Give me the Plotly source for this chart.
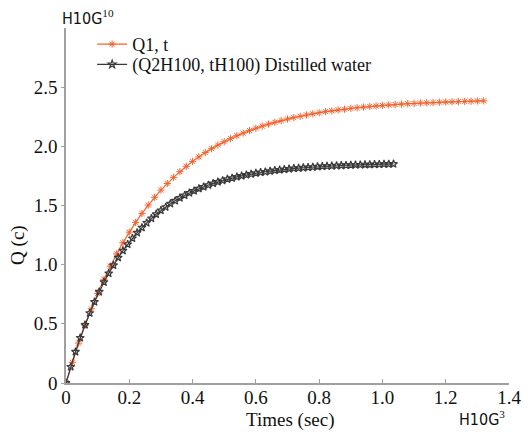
import plotly.graph_objects as go

# Series 1: Q1, t (orange)
t1 = [0.00, 0.02, 0.04, 0.06, 0.08, 0.10, 0.12, 0.14, 0.16, 0.18,
      0.20, 0.22, 0.24, 0.26, 0.28, 0.30, 0.32, 0.34, 0.36, 0.38,
      0.40, 0.42, 0.44, 0.46, 0.48, 0.50, 0.52, 0.54, 0.56, 0.58,
      0.60, 0.62, 0.64, 0.66, 0.68, 0.70, 0.72, 0.74, 0.76, 0.78,
      0.80, 0.82, 0.84, 0.86, 0.88, 0.90, 0.92, 0.94, 0.96, 0.98,
      1.00, 1.02, 1.04, 1.06, 1.08, 1.10, 1.12, 1.14, 1.16, 1.18,
      1.20, 1.22, 1.24, 1.26, 1.28, 1.30, 1.32]
q1 = [0.000, 0.175, 0.337, 0.488, 0.627, 0.757, 0.877, 0.988, 1.091, 1.186,
      1.275, 1.357, 1.433, 1.504, 1.569, 1.630, 1.686, 1.738, 1.786, 1.831,
      1.873, 1.911, 1.947, 1.980, 2.010, 2.039, 2.065, 2.090, 2.112, 2.133,
      2.153, 2.171, 2.188, 2.203, 2.217, 2.231, 2.243, 2.254, 2.265, 2.275,
      2.284, 2.293, 2.300, 2.308, 2.314, 2.321, 2.326, 2.332, 2.337, 2.341,
      2.346, 2.350, 2.353, 2.357, 2.360, 2.363, 2.366, 2.368, 2.370, 2.373,
      2.375, 2.376, 2.378, 2.380, 2.381, 2.383, 2.384]

# Series 2: (Q2H100, tH100) Distilled water (black)
t2 = [0.000, 0.015, 0.030, 0.045, 0.060, 0.075, 0.090, 0.105, 0.120, 0.135,
      0.150, 0.165, 0.180, 0.195, 0.210, 0.225, 0.240, 0.255, 0.270, 0.285,
      0.300, 0.315, 0.330, 0.345, 0.360, 0.375, 0.390, 0.405, 0.420, 0.435,
      0.450, 0.465, 0.480, 0.495, 0.510, 0.525, 0.540, 0.555, 0.570, 0.585,
      0.600, 0.615, 0.630, 0.645, 0.660, 0.675, 0.690, 0.705, 0.720, 0.735,
      0.750, 0.765, 0.780, 0.795, 0.810, 0.825, 0.840, 0.855, 0.870, 0.885,
      0.900, 0.915, 0.930, 0.945, 0.960, 0.975, 0.990, 1.005, 1.020, 1.035]
q2 = [0.000, 0.137, 0.264, 0.382, 0.491, 0.591, 0.685, 0.771, 0.852, 0.926,
      0.995, 1.059, 1.118, 1.172, 1.223, 1.270, 1.313, 1.354, 1.391, 1.426,
      1.458, 1.487, 1.515, 1.540, 1.564, 1.585, 1.606, 1.624, 1.642, 1.658,
      1.673, 1.687, 1.699, 1.711, 1.722, 1.732, 1.742, 1.750, 1.758, 1.766,
      1.773, 1.779, 1.785, 1.791, 1.796, 1.801, 1.805, 1.809, 1.813, 1.816,
      1.819, 1.822, 1.825, 1.828, 1.830, 1.832, 1.834, 1.836, 1.838, 1.840,
      1.841, 1.843, 1.844, 1.845, 1.846, 1.847, 1.848, 1.849, 1.850, 1.851]

x_ticks = [0, 0.2, 0.4, 0.6, 0.8, 1.0, 1.2, 1.4]
x_tick_labels = ["0", "0.2", "0.4", "0.6", "0.8", "1.0", "1.2", "1.4"]
y_ticks = [0, 0.5, 1.0, 1.5, 2.0, 2.5]
y_tick_labels = ["0", "0.5", "1.0", "1.5", "2.0", "2.5"]

serif = "Liberation Serif"
sans = "Liberation Sans Narrow, DejaVu Sans Condensed, sans-serif"
orange = "#f2642f"
dark = "#3a3a3a"
axis_gray = "#a0a0a0"

fig = go.Figure()
fig.add_trace(go.Scatter(
    x=t1, y=q1, mode="lines+markers", name="Q1, t", legend="legend",
    line=dict(color=orange, width=1.2),
    marker=dict(symbol="asterisk-open", size=6, color=orange,
                line=dict(color=orange, width=1)),
))
fig.add_trace(go.Scatter(
    x=t2, y=q2, mode="lines+markers", name="(Q2H100, tH100) Distilled water",
    legend="legend2",
    line=dict(color=dark, width=1.2),
    marker=dict(symbol="star-open", size=6, color=dark,
                line=dict(color=dark, width=1.2)),
))

# page body has an 8px margin: figure is sized/offset so the plot area lands
# at x 66..509, y 28..383 in the 529x432 window
fig.update_layout(
    width=521, height=424,
    margin=dict(l=58, r=20, t=20, b=49),
    paper_bgcolor="white", plot_bgcolor="white",
    font=dict(family=serif, size=18, color="#111"),
    showlegend=True,
    legend=dict(x=0.059, y=1.006, xanchor="left", yanchor="top",
                bgcolor="rgba(255,255,255,0)", font=dict(family=serif, size=18)),
    legend2=dict(x=0.059, y=0.949, xanchor="left", yanchor="top",
                 bgcolor="rgba(255,255,255,0)", font=dict(family=serif, size=18)),
    xaxis=dict(range=[0, 1.4], tickvals=x_ticks, ticktext=x_tick_labels,
               showgrid=False, zeroline=False, showline=True, automargin=False,
               linecolor=axis_gray, linewidth=1.5,
               ticks="inside", ticklen=4, tickcolor=axis_gray,
               ticklabelstandoff=-4,
               tickfont=dict(family=serif, size=19)),
    yaxis=dict(range=[0, 3.0], tickvals=y_ticks, ticktext=y_tick_labels,
               showgrid=False, zeroline=False, showline=True, automargin=False,
               linecolor=axis_gray, linewidth=1.5,
               ticks="outside", ticklen=3, tickcolor=axis_gray,
               tickfont=dict(family=serif, size=19)),
)

# axis titles
fig.add_annotation(text="Times (sec)", xref="paper", yref="paper",
                   x=0.506, y=0, xanchor="center", yanchor="middle", yshift=-37,
                   showarrow=False, font=dict(family=serif, size=19, color="#111"))
fig.add_annotation(text="Q (c)", xref="paper", yref="paper", textangle=-90,
                   x=0, y=0.389, xanchor="center", yanchor="middle", xshift=-48,
                   showarrow=False, font=dict(family=serif, size=19, color="#111"))

# scale factors
fig.add_annotation(text="H10G<sup><span style='font-family:Liberation Serif'>10</span></sup>",
                   xref="paper", yref="paper",
                   x=0.0, y=1.0, xanchor="left", yanchor="bottom", yshift=-2,
                   xshift=-6, showarrow=False,
                   font=dict(family=sans, size=16, color="#111"))
fig.add_annotation(text="H10G<sup><span style='font-family:Liberation Serif'>3</span></sup>",
                   xref="paper", yref="paper",
                   x=1.0, y=0, xanchor="right", yanchor="middle", yshift=-35, xshift=-2,
                   showarrow=False,
                   font=dict(family=sans, size=16, color="#111"))

fig.write_html("out.html")
